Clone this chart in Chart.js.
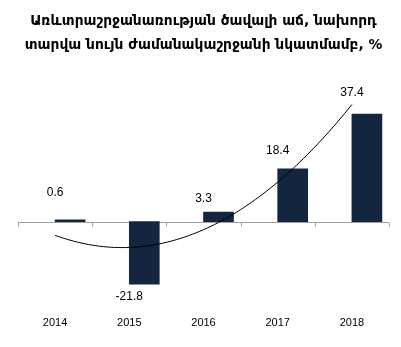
<!DOCTYPE html>
<html>
<head>
<meta charset="utf-8">
<script src="https://cdn.jsdelivr.net/npm/chart.js@4.4.1/dist/chart.umd.min.js"></script>
<style>
  html, body { margin: 0; padding: 0; background: #fff; }
  #wrap { width: 401px; height: 347px; }
</style>
</head>
<body>
<div id="wrap"><canvas id="myChart"></canvas></div>
<script>
  const years = ['2014', '2015', '2016', '2017', '2018'];
  const growth = [0.6, -21.8, 3.3, 18.4, 37.4];
  const titleLines = [
    'Առևտրաշրջանառության ծավալի աճ, նախորդ',
    'տարվա նույն ժամանակաշրջանի նկատմամբ, %'
  ];
  // distance of each value label from its bar end, px
  const labelGap = [27, 12, 13, 18, 21];

  // 2nd order polynomial trend (least squares) over index 0..n-1
  function polyTrend(vals, steps) {
    const s = [0, 0, 0, 0, 0], t = [0, 0, 0];
    vals.forEach((v, i) => {
      for (let k = 0; k < 5; k++) s[k] += Math.pow(i, k);
      for (let k = 0; k < 3; k++) t[k] += v * Math.pow(i, k);
    });
    const m = [
      [s[0], s[1], s[2], t[0]],
      [s[1], s[2], s[3], t[1]],
      [s[2], s[3], s[4], t[2]]
    ];
    for (let c = 0; c < 3; c++) {
      for (let r = c + 1; r < 3; r++) {
        const f = m[r][c] / m[c][c];
        for (let k = c; k < 4; k++) m[r][k] -= f * m[c][k];
      }
    }
    const coef = [0, 0, 0];
    for (let r = 2; r >= 0; r--) {
      let acc = m[r][3];
      for (let k = r + 1; k < 3; k++) acc -= m[r][k] * coef[k];
      coef[r] = acc / m[r][r];
    }
    const pts = [];
    const last = vals.length - 1;
    for (let j = 0; j <= steps; j++) {
      const x = last * j / steps;
      pts.push({ x: x, y: coef[0] + coef[1] * x + coef[2] * x * x });
    }
    return pts;
  }

  const axisAndLabels = {
    id: 'axisAndLabels',
    beforeDatasetsDraw(chart) {
      const { ctx, chartArea, scales: { x, y } } = chart;
      const y0 = Math.round(y.getPixelForValue(0)) + 0.5;
      ctx.save();
      ctx.strokeStyle = '#a0a0a0';
      ctx.lineWidth = 1;
      ctx.beginPath();
      ctx.moveTo(chartArea.left, y0);
      ctx.lineTo(chartArea.right, y0);
      const step = x.getPixelForValue(1) - x.getPixelForValue(0);
      for (let i = 0; i <= years.length; i++) {
        const px = Math.round(x.getPixelForValue(0) - step / 2 + i * step) + 0.5;
        ctx.moveTo(px, y0);
        ctx.lineTo(px, y0 + 4);
      }
      ctx.stroke();
      ctx.restore();
    },
    afterDatasetsDraw(chart) {
      const { ctx, scales: { x, y } } = chart;
      ctx.save();
      ctx.font = '12px "Liberation Sans", Arial, sans-serif';
      ctx.fillStyle = '#000';
      ctx.textAlign = 'center';
      ctx.textBaseline = 'middle';
      growth.forEach((v, i) => {
        const px = x.getPixelForValue(i);
        const py = y.getPixelForValue(v) + (v < 0 ? labelGap[i] : -labelGap[i]);
        ctx.fillText(String(v), px, py);
      });
      ctx.restore();
    }
  };

  const data = {
    labels: years,
    datasets: [{
      type: 'line',
      label: 'trend',
      data: polyTrend(growth, 80),
      xAxisID: 'xt',
      borderColor: '#000',
      borderWidth: 1,
      pointRadius: 0,
      fill: false,
      order: 0
    }, {
      type: 'bar',
      label: 'growth',
      data: growth,
      backgroundColor: '#13253f',
      barThickness: 30,
      order: 1
    }]
  };

  const config = {
    data,
    options: {
      responsive: true,
      maintainAspectRatio: false,
      animation: false,
      layout: { padding: { left: 18, right: 12, top: 0, bottom: 8 } },
      plugins: {
        legend: { display: false },
        tooltip: { enabled: false },
        title: {
          display: true,
          text: titleLines,
          color: '#000',
          font: { family: '"DejaVu Sans", sans-serif', size: 13.8, weight: 'bold', lineHeight: 1.75 },
          padding: { top: 9, bottom: 35 }
        }
      },
      scales: {
        x: {
          type: 'category',
          offset: true,
          border: { display: false },
          grid: { display: false, drawTicks: false },
          ticks: {
            color: '#000',
            padding: 9,
            font: { family: '"Liberation Sans", Arial, sans-serif', size: 11 }
          }
        },
        xt: {
          type: 'linear',
          display: false,
          min: -0.5,
          max: 4.5
        },
        y: {
          display: false,
          min: -30,
          max: 45
        }
      }
    },
    plugins: [axisAndLabels]
  };

  var myChart = new Chart(document.getElementById('myChart'), config);
</script>
</body>
</html>
